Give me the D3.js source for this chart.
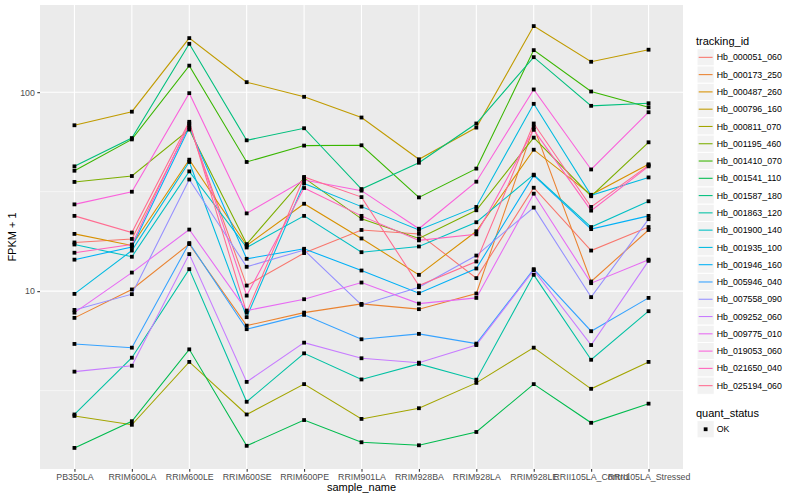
<!DOCTYPE html>
<html>
<head>
<meta charset="utf-8">
<script src="https://cdn.jsdelivr.net/npm/d3@7"></script>
<style>
  body { margin: 0; background: #fff; }
  text { font-family: "Liberation Sans", Arial, sans-serif; }
</style>
</head>
<body>
<svg id="chart" width="800" height="500"></svg>
<script>
// sample names on the x axis
const samples = ["PB350LA", "RRIM600LA", "RRIM600LE", "RRIM600SE", "RRIM600PE", "RRIM901LA",
  "RRIM928BA", "RRIM928LA", "RRIM928LE", "RRII105LA_Control", "RRII105LA_Stressed"];

// tracking ids, in legend order
const trackingIds = ["Hb_000051_060", "Hb_000173_250", "Hb_000487_260", "Hb_000796_160", "Hb_000811_070",
  "Hb_001195_460", "Hb_001410_070", "Hb_001541_110", "Hb_001587_180", "Hb_001863_120",
  "Hb_001900_140", "Hb_001935_100", "Hb_001946_160", "Hb_005946_040", "Hb_007558_090",
  "Hb_009252_060", "Hb_009775_010", "Hb_019053_060", "Hb_021650_040", "Hb_025194_060"];

// ggplot default hue palette for 20 levels
const hueColors = ["#F8766D", "#EA8331", "#D89000", "#C09B00", "#A3A500", "#7CAE00", "#39B600", "#00BB4E",
  "#00BF7D", "#00C1A3", "#00BFC4", "#00BAE0", "#00B0F6", "#35A2FF", "#9590FF", "#C77CFF",
  "#E76BF3", "#FA62DB", "#FF62BC", "#FF6C91"];

// FPKM + 1 per sample (same order as samples)
const Hb_000051_060 = [17.57, 18.3, 68, 10.67, 15.54, 20.3, 19.4, 11.63, 33.1, 16.0, 21.0];
const Hb_000173_250 = [7.34, 10.2, 17.24, 6.71, 7.8, 8.63, 8.12, 9.73, 66.9, 11.18, 20.3];
const Hb_000487_260 = [19.4, 16.97, 45.8, 16.97, 27.5, 18.4, 12.08, 20.0, 51.4, 30.5, 43.4];
const Hb_000796_160 = [68.2, 79.8, 187, 112.3, 94.8, 74.6, 46, 66.4, 214.9, 142.2, 163.5];
const Hb_000811_070 = [2.36, 2.13, 4.41, 2.40, 3.41, 2.28, 2.58, 3.46, 5.2, 3.23, 4.41];
const Hb_001195_460 = [35.4, 37.9, 64.9, 17.24, 37.1, 23.1, 18.4, 25.5, 59.1, 30.0, 56];
const Hb_001410_070 = [40.3, 57.9, 136, 44.6, 53.9, 54.1, 29.6, 41.3, 162.7, 100.8, 84];
const Hb_001541_110 = [1.63, 2.22, 5.1, 1.67, 2.25, 1.74, 1.68, 1.96, 3.41, 2.18, 2.72];
const Hb_001587_180 = [42.4, 58.8, 175, 57.3, 65.9, 32.6, 44.2, 69.6, 150, 85.4, 88];
const Hb_001863_120 = [2.40, 4.63, 12.9, 2.78, 4.87, 3.6, 4.31, 3.59, 12.08, 4.52, 7.93];
const Hb_001900_140 = [17.16, 14.89, 40.0, 16.58, 23.9, 15.7, 16.77, 22.2, 38.5, 21.0, 28.3];
const Hb_001935_100 = [9.69, 16.0, 44.6, 7.4, 34.8, 26.6, 20.3, 26.5, 87.4, 30.3, 37.3];
const Hb_001946_160 = [14.4, 16.66, 66.4, 14.54, 16.33, 12.7, 9.77, 13.0, 38.2, 20.5, 23.9];
const Hb_005946_040 = [5.43, 5.2, 17.45, 6.44, 7.6, 5.73, 6.1, 5.45, 12.9, 6.29, 9.25];
const Hb_007558_090 = [8.05, 9.66, 36.4, 13.26, 16.09, 8.53, 10.47, 15.1, 26.3, 9.33, 23.0];
const Hb_009252_060 = [3.94, 4.22, 15.36, 3.5, 5.51, 4.6, 4.37, 5.36, 12.75, 5.36, 14.2];
const Hb_009775_010 = [7.8, 12.4, 20.4, 7.99, 9.11, 11.05, 8.66, 9.25, 30.9, 10.97, 14.4];
const Hb_019053_060 = [27.3, 31.6, 98.9, 24.6, 36.2, 32.0, 20.6, 35.5, 103.2, 40.9, 79.3];
const Hb_021650_040 = [15.6, 17.16, 69.6, 9.5, 33.0, 23.9, 18.0, 19.3, 64.7, 25.4, 42.4];
const Hb_025194_060 = [23.9, 19.7, 71, 7.8, 37.5, 29.7, 10.67, 14.1, 69.6, 26.5, 42.9];

const seriesValues = [Hb_000051_060, Hb_000173_250, Hb_000487_260, Hb_000796_160, Hb_000811_070,
  Hb_001195_460, Hb_001410_070, Hb_001541_110, Hb_001587_180, Hb_001863_120,
  Hb_001900_140, Hb_001935_100, Hb_001946_160, Hb_005946_040, Hb_007558_090,
  Hb_009252_060, Hb_009775_010, Hb_019053_060, Hb_021650_040, Hb_025194_060];

const yTicks = [10, 100];
const yMinor = [Math.sqrt(10), Math.sqrt(1000)];

const series = trackingIds.map((id, i) => ({
  id: id,
  color: hueColors[i],
  values: seriesValues[i].map((v, j) => ({ sample: samples[j], value: v }))
}));

const svg = d3.select("#chart");
const panel = { left: 40, right: 683, top: 5, bottom: 469 };

// x: discrete, ggplot expand of 0.6 units on each side
const x = d3.scalePoint().domain(samples).range([panel.left, panel.right]).padding(0.6);

// y: log10 with 5% expansion
let allVals = seriesValues.flat();
let lo = Math.log10(d3.min(allVals)), hi = Math.log10(d3.max(allVals));
let pad = (hi - lo) * 0.05;
const y = d3.scaleLog().domain([Math.pow(10, lo - pad), Math.pow(10, hi + pad)]).range([panel.bottom, panel.top]);

// panel background
svg.append("rect")
  .attr("x", panel.left).attr("y", panel.top)
  .attr("width", panel.right - panel.left).attr("height", panel.bottom - panel.top)
  .attr("fill", "#EBEBEB");

// grid
svg.selectAll(".minor-y").data(yMinor).join("line")
  .attr("x1", panel.left).attr("x2", panel.right)
  .attr("y1", d => y(d)).attr("y2", d => y(d))
  .attr("stroke", "#fff").attr("stroke-width", 0.55);
svg.selectAll(".major-y").data(yTicks).join("line")
  .attr("x1", panel.left).attr("x2", panel.right)
  .attr("y1", d => y(d)).attr("y2", d => y(d))
  .attr("stroke", "#fff").attr("stroke-width", 1.1);
svg.selectAll(".major-x").data(samples).join("line")
  .attr("x1", d => x(d)).attr("x2", d => x(d))
  .attr("y1", panel.top).attr("y2", panel.bottom)
  .attr("stroke", "#fff").attr("stroke-width", 1.1);

// lines
const line = d3.line()
  .x(d => x(d.sample))
  .y(d => y(d.value));

svg.append("g").selectAll("path").data(series).join("path")
  .attr("d", d => line(d.values))
  .attr("fill", "none")
  .attr("stroke", d => d.color)
  .attr("stroke-width", 1.07);

// points
svg.append("g").selectAll("g").data(series).join("g")
  .selectAll("rect").data(d => d.values).join("rect")
  .attr("x", d => x(d.sample) - 1.9)
  .attr("y", d => y(d.value) - 1.9)
  .attr("width", 3.8).attr("height", 3.8)
  .attr("fill", "#000");

// axes
const xAxis = d3.axisBottom(x).tickSize(2.7).tickPadding(2.5);
const gx = svg.append("g").attr("transform", `translate(0,${panel.bottom})`).call(xAxis);
const yAxis = d3.axisLeft(y).tickValues(yTicks).tickFormat(d3.format("d")).tickSize(2.7).tickPadding(2.5);
const gy = svg.append("g").attr("transform", `translate(${panel.left},0)`).call(yAxis);

[gx, gy].forEach(g => {
  g.select(".domain").remove();
  g.selectAll(".tick line").attr("stroke", "#333").attr("stroke-width", 1.07);
  g.selectAll(".tick text").attr("fill", "#4D4D4D").attr("font-size", "8.8px")
    .attr("font-family", "Liberation Sans, Arial, sans-serif");
});

// axis titles
svg.append("text")
  .attr("x", (panel.left + panel.right) / 2).attr("y", 491)
  .attr("text-anchor", "middle").attr("font-size", "11px").attr("fill", "#000")
  .text("sample_name");
svg.append("text")
  .attr("transform", `translate(16,${(panel.top + panel.bottom) / 2}) rotate(-90)`)
  .attr("text-anchor", "middle").attr("font-size", "11px").attr("fill", "#000")
  .text("FPKM + 1");

// legend: tracking_id
const legend = svg.append("g").attr("transform", "translate(697,0)");
legend.append("text").attr("x", -1).attr("y", 44.5)
  .attr("font-size", "11px").attr("fill", "#000").text("tracking_id");

const keySize = 17.28, keyTop = 48.7;
const keys = legend.selectAll(".key").data(series).join("g")
  .attr("transform", (d, i) => `translate(0,${keyTop + i * keySize})`);
keys.append("rect")
  .attr("width", keySize).attr("height", keySize)
  .attr("fill", "#F2F2F2").attr("stroke", "#fff").attr("stroke-width", 1);
keys.append("line")
  .attr("x1", 1.7).attr("x2", keySize - 1.7)
  .attr("y1", keySize / 2).attr("y2", keySize / 2)
  .attr("stroke", d => d.color).attr("stroke-width", 1.07);
keys.append("text")
  .attr("x", keySize + 2.5).attr("y", keySize / 2 + 3.1)
  .attr("font-size", "8.8px").attr("fill", "#000")
  .text(d => d.id);

// legend: quant_status
const legend2 = svg.append("g").attr("transform", "translate(697,0)");
legend2.append("text").attr("x", -1).attr("y", 416.5)
  .attr("font-size", "11px").attr("fill", "#000").text("quant_status");
legend2.append("rect")
  .attr("y", 420.6).attr("width", keySize).attr("height", keySize)
  .attr("fill", "#F2F2F2").attr("stroke", "#fff");
legend2.append("rect")
  .attr("x", keySize / 2 - 1.9).attr("y", 420.6 + keySize / 2 - 1.9)
  .attr("width", 3.8).attr("height", 3.8).attr("fill", "#000");
legend2.append("text")
  .attr("x", keySize + 2.5).attr("y", 420.6 + keySize / 2 + 3.1)
  .attr("font-size", "8.8px").attr("fill", "#000").text("OK");
</script>
</body>
</html>
